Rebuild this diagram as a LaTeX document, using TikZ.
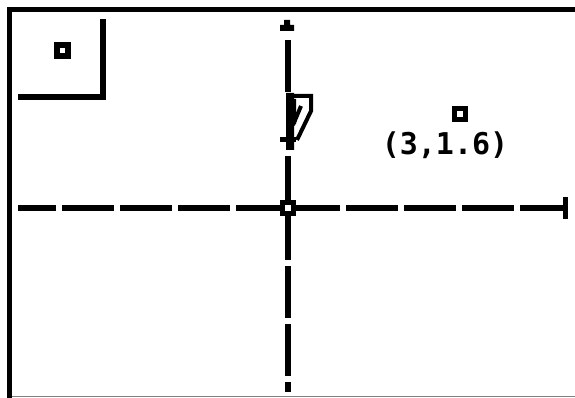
\documentclass[tikz,border=0pt]{standalone}
\usepackage{fontspec}
\newfontfamily\calcfont{DejaVu Sans Mono}
\usepackage{tikz}
\tikzstyle{axisline} = [draw=black, line width=6pt, dash pattern=on 52pt off 6pt]
\tikzstyle{framebar} = [draw=black, line width=5.5pt]
\tikzstyle{markbox} = [draw=black, fill=white, line width=5.5pt,
    rectangle, minimum size=11pt, inner sep=0pt]
\tikzstyle{coordlabel} = [font=\calcfont\bfseries\fontsize{30pt}{30pt}\selectfont, inner sep=0pt]

\begin{document}
\begin{tikzpicture}[x=1pt, y=-1pt]
\useasboundingbox (0,0) rectangle (575,398);
\fill[white] (0,0) rectangle (575,398);
% screen frame
\draw[framebar] (575,9.5) -- (9.5,9.5) -- (9.5,398);
\draw[gray, line width=1.2pt] (12,396.5) -- (575,396.5);
% tool icon in the corner
\draw[framebar] (18,97) -- (103,97) -- (103,19);
\node[markbox] (tool) at (62.5,50.5) {};
% axes
\coordinate (O) at (288,208);
\coordinate (xmin) at (18,208);
\coordinate (xmax) at (565,208);
\coordinate (ymin) at (288,392);
\coordinate (ymax) at (288,34);
\draw[axisline] (O) -- (xmin);
\draw[axisline] (O) -- (xmax);
\draw[axisline] (O) -- (ymin);
\draw[axisline] (O) -- (ymax);
\draw[black, line width=5pt] (565,197) -- (565,219);
\fill[black] (280,25) rectangle (294,31) (284,20) rectangle (290,25);
% pencil cursor
\fill[white] (283,92) rectangle (316,150);
\fill[black] (286,93) rectangle (294,150) (286,99) rectangle (296,124);
\fill[black] (280,137) rectangle (296,142);
\draw[black, line width=4pt] (292,96) -- (311,96) -- (311,111) -- (297,140);
\draw[black, line width=4pt] (301,106) -- (293,125);
% point and its coordinates
\node[markbox] (pt) at (460,114) {};
\node[coordlabel] (lbl) at (445,145) {(3,1.6)};
\node[markbox] (origin) at (O) {};
\end{tikzpicture}
\end{document}
